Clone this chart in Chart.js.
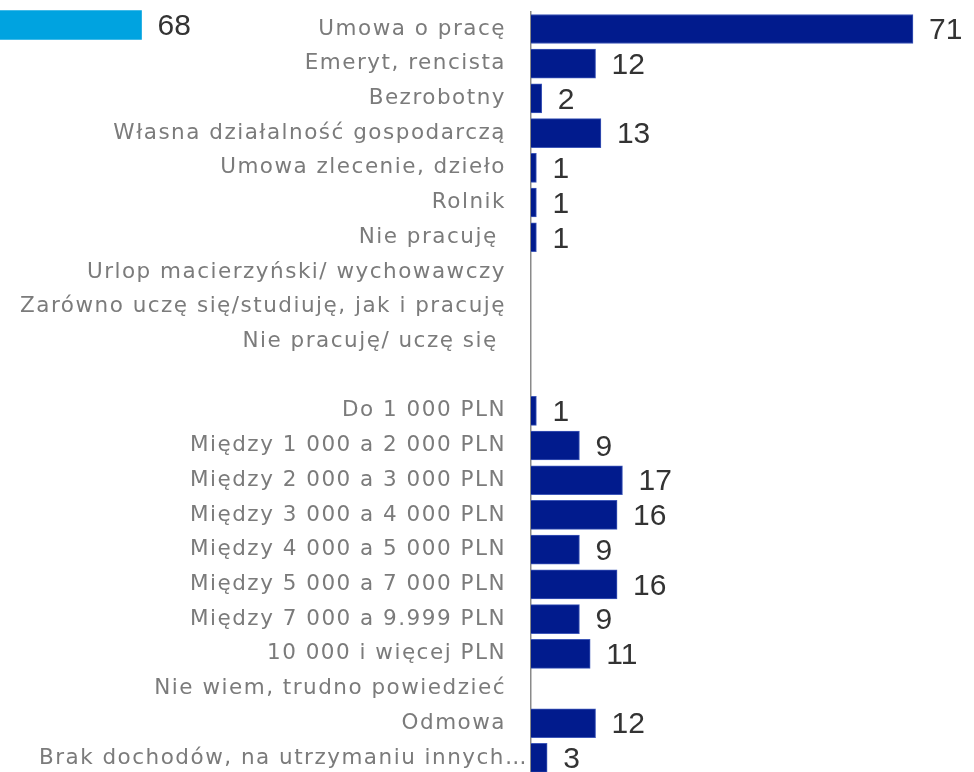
<!doctype html>
<html>
	<head>
		<meta charset="utf-8" />
		<title>Status zawodowy i dochód</title>
		<script src="https://cdn.jsdelivr.net/npm/chart.js@4.4.1/dist/chart.umd.min.js"></script>
		<style>
			html,
			body {
				margin: 0;
				padding: 0;
				background: #fff;
				overflow: hidden;
			}

			#wrap {
				position: relative;
				width: 974px;
				height: 772px;
				overflow: hidden;
			}

			#mainChart {
				position: absolute;
				left: 0;
				top: 0;
			}

			#sideChart {
				position: absolute;
				left: -224px;
				top: 0;
			}
		</style>
	</head>

	<body>
		<div id="wrap">
			<canvas id="mainChart" width="974" height="800"></canvas>
			<canvas id="sideChart" width="430" height="50"></canvas>
		</div>

		<script>
			// data
			const categories = [
				"Umowa o pracę",
				"Emeryt, rencista",
				"Bezrobotny",
				"Własna działalność gospodarczą",
				"Umowa zlecenie, dzieło",
				"Rolnik",
				"Nie pracuję ",
				"Urlop macierzyński/ wychowawczy",
				"Zarówno uczę się/studiuję, jak i pracuję",
				"Nie pracuję/ uczę się ",
				"",
				"Do 1 000 PLN",
				"Między 1 000 a 2 000 PLN",
				"Między 2 000 a 3 000 PLN",
				"Między 3 000 a 4 000 PLN",
				"Między 4 000 a 5 000 PLN",
				"Między 5 000 a 7 000 PLN",
				"Między 7 000 a 9.999 PLN",
				"10 000 i więcej PLN",
				"Nie wiem, trudno powiedzieć",
				"Odmowa",
				"Brak dochodów, na utrzymaniu innych…",
			];
			const values = [
				71, 12, 2, 13, 1, 1, 1, null, null, null, null,
				1, 9, 17, 16, 9, 16, 9, 11, null, 12, 3,
			];
			// clipped bar of the neighbouring chart (left edge)
			const sideCategories = [""];
			const sideValues = [68];

			const axisMax = 80;
			// the truncated label sits closer to the axis than the others
			const truncatedIdx = categories.length - 1;
			const labelFont = "21.5px 'DejaVu Sans', Verdana, sans-serif";
			const labelColor = "#7b7b7b";

			// wider tracking for the category labels
			const labelSpacing = {
				id: "labelSpacing",
				beforeDraw(chart) {
					chart.ctx.letterSpacing = "1.5px";
				},
				afterDraw(chart) {
					const ctx = chart.ctx;
					const y = chart.scales.y.getPixelForTick(truncatedIdx);
					ctx.save();
					ctx.font = labelFont;
					ctx.fillStyle = labelColor;
					ctx.textAlign = "right";
					ctx.textBaseline = "middle";
					ctx.fillText(categories[truncatedIdx], 528, y);
					ctx.restore();
					ctx.letterSpacing = "0px";
				},
			};

			// value labels drawn after the bars
			const valueLabels = {
				id: "valueLabels",
				afterDatasetsDraw(chart) {
					const ctx = chart.ctx;
					const meta = chart.getDatasetMeta(0);
					const data = chart.data.datasets[0].data;
					ctx.save();
					ctx.letterSpacing = "0px";
					ctx.font = "30px 'Liberation Sans', Arial, sans-serif";
					ctx.fillStyle = "#333333";
					ctx.textAlign = "left";
					ctx.textBaseline = "middle";
					meta.data.forEach((bar, i) => {
						if (data[i] == null) return;
						ctx.fillText(String(data[i]), bar.x + 16, bar.y + 2);
					});
					ctx.restore();
				},
			};

			new Chart(document.getElementById("mainChart"), {
				type: "bar",
				data: {
					labels: categories,
					datasets: [
						{
							data: values,
							backgroundColor: "#011b8d",
							borderColor: "#3e57b8",
							borderWidth: { top: 1, bottom: 1, right: 1, left: 0 },
							borderSkipped: "left",
							barThickness: 29,
						},
					],
				},
				options: {
					indexAxis: "y",
					responsive: false,
					animation: false,
					layout: { padding: { top: 11.6, bottom: 24.7, left: 0, right: 12.6 } },
					plugins: { legend: { display: false }, tooltip: { enabled: false } },
					scales: {
						x: { display: false, min: 0, max: axisMax },
						y: {
							grid: { display: false, drawTicks: false },
							border: { display: true, color: "#8a8a8a", width: 1.5 },
							afterFit(scale) {
								scale.width = 531;
								scale.paddingTop = 0;
								scale.paddingBottom = 0;
							},
							ticks: {
								padding: 25,
								color: labelColor,
								font: { family: "'DejaVu Sans', Verdana, sans-serif", size: 21.5 },
								autoSkip: false,
								callback: (value, index) =>
									index === truncatedIdx ? "" : categories[index],
							},
						},
					},
				},
				plugins: [labelSpacing, valueLabels],
			});

			new Chart(document.getElementById("sideChart"), {
				type: "bar",
				data: {
					labels: sideCategories,
					datasets: [
						{
							data: sideValues,
							backgroundColor: "#00a3e0",
							barThickness: 29,
						},
					],
				},
				options: {
					indexAxis: "y",
					responsive: false,
					animation: false,
					layout: { padding: 0 },
					plugins: { legend: { display: false }, tooltip: { enabled: false } },
					scales: {
						x: { display: false, min: 0, max: axisMax },
						y: { display: false },
					},
				},
				plugins: [valueLabels],
			});
		</script>
	</body>
</html>
